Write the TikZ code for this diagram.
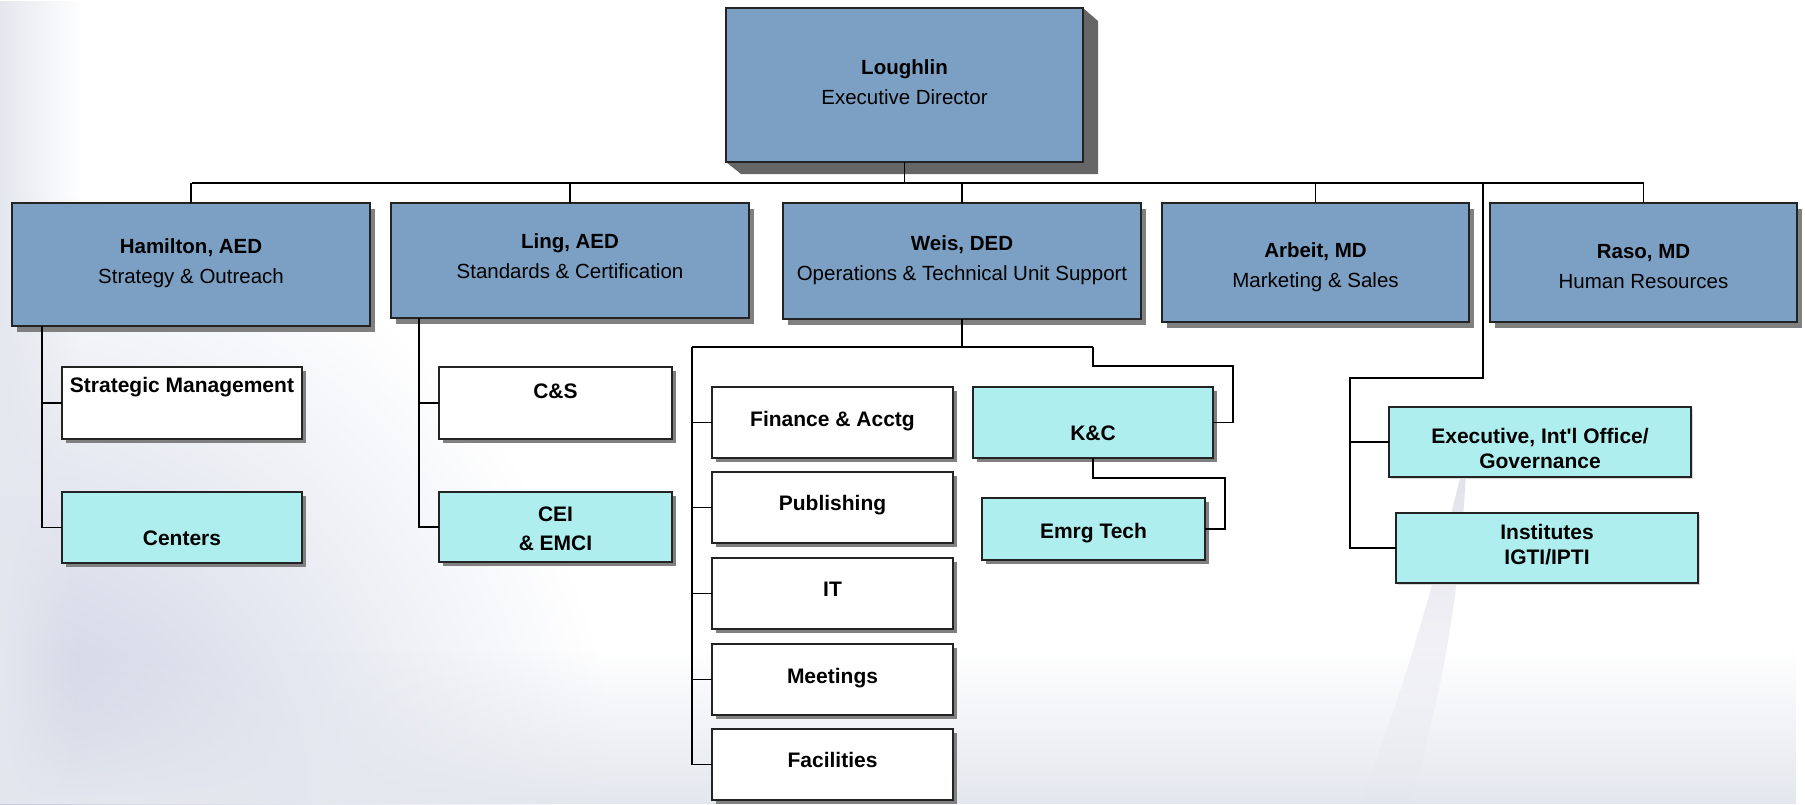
\documentclass[tikz,border=0pt]{standalone}
\usepackage{fontspec}
\setmainfont{Liberation Sans}
\usetikzlibrary{shadows,fadings}
\definecolor{hdr}{RGB}{123,160,196}
\definecolor{cybx}{RGB}{175,238,238}
\definecolor{edgec}{RGB}{35,35,35}
\definecolor{shd}{RGB}{128,128,128}
\definecolor{bgc}{RGB}{200,206,224}
\definecolor{bgb}{RGB}{228,231,238}
\newcommand\orgbox[6]{\node[#1, minimum width={#4-#2}, minimum height={#5-#3}] (#6) at ({(#2+#4)/2},{(#3+#5)/2}) {};}
\begin{document}
\begin{tikzpicture}[x=1pt,y=-1pt,
  bx/.style={draw=edgec, line width=1.3pt, inner sep=0pt, outer sep=0pt},
  hbox/.style={bx, fill=hdr, general shadow={fill=shd, shadow xshift=5pt, shadow yshift=-6pt}},
  wbox/.style={bx, fill=white, general shadow={fill=shd, shadow xshift=4pt, shadow yshift=-4pt}},
  cbox/.style={bx, fill=cybx, general shadow={fill=shd, shadow xshift=4pt, shadow yshift=-4pt}},
  pbox/.style={bx, fill=cybx, general shadow={fill={rgb,255:red,215;green,215;blue,215}, shadow xshift=2pt, shadow yshift=-2pt}},
  conn/.style={line width=1.3pt, draw=black},
  hdtxt/.style={font=\fontsize{20.5}{30}\selectfont, align=center, inner sep=0pt},
  chtxt/.style={font=\fontsize{21}{26}\bfseries\selectfont, align=center, inner sep=0pt, text height=15pt, text depth=0pt},
  chtxtm/.style={font=\fontsize{21}{25}\bfseries\selectfont, align=center, inner sep=0pt}
]
\useasboundingbox (0,0) rectangle (1805,804);
% background
\fill[white] (0,0) rectangle (1805,804);
\begin{scope}
  \clip (0,0) rectangle (1805,804);
  \shade[inner color=bgc, outer color=white] (0,804) circle (620);
  \fill[bgb, path fading=north] (0,650) rectangle (1805,804);
  \fill[bgb, path fading=east] (0,0) rectangle (80,804);
  \fill[color={rgb,255:red,226;green,226;blue,236}, path fading=south] (1462,470) .. controls (1430,600) and (1400,700) .. (1360,804) -- (1410,804) .. controls (1440,700) and (1460,600) .. (1466,470) -- cycle;
\end{scope}

% top box with 3D shadow
\fill[color={rgb,255:red,102;green,102;blue,102}] (1083,8) -- (1098,21) -- (1098,174) -- (741,174) -- (726,162) -- (1083,162) -- cycle;
\orgbox{bx, fill=hdr}{726}{8}{1083}{162}{L}

% level 1
\orgbox{hbox}{12}{203}{370}{326}{H}
\orgbox{hbox}{391}{203}{749}{318}{Li}
\orgbox{hbox}{783}{203}{1141}{319}{W}
\orgbox{hbox}{1162}{203}{1469}{322}{A}
\orgbox{hbox}{1490}{203}{1797}{322}{R}

% children
\orgbox{wbox}{62}{367}{302}{439}{SM}
\orgbox{cbox}{62}{492}{302}{563}{Ce}
\orgbox{wbox}{439}{367}{672}{439}{CS}
\orgbox{cbox}{439}{492}{672}{562}{CEI}
\orgbox{wbox}{712}{387}{953}{458}{Fin}
\orgbox{wbox}{712}{472}{953}{543}{Pub}
\orgbox{wbox}{712}{558}{953}{629}{IT}
\orgbox{wbox}{712}{644}{953}{715}{Mtg}
\orgbox{wbox}{712}{729}{953}{800}{Fac}
\orgbox{cbox}{973}{387}{1213}{458}{KC}
\orgbox{cbox}{982}{498}{1205}{560}{ET}
\orgbox{pbox}{1389}{407}{1691}{477}{Ex}
\orgbox{pbox}{1396}{513}{1698}{583}{In}

% texts
\node[hdtxt] (Lt) at (904.5,82) {{\bfseries Loughlin}\\Executive Director};
\node[hdtxt] (Ht) at (191,263) {{\bfseries Hamilton, AED}\\Strategy \& Outreach};
\node[hdtxt] (Lit) at (570,256) {{\bfseries Ling, AED}\\Standards \& Certification};
\node[hdtxt] (Wt) at (962,260) {{\bfseries Weis, DED}\\Operations \& Technical Unit Support};
\node[hdtxt] (At) at (1315.5,267) {{\bfseries Arbeit, MD}\\Marketing \& Sales};
\node[hdtxt] (Rt) at (1643.5,267) {{\bfseries Raso, MD}\\Human Resources};

\node[chtxt] (SMt) at (182,385) {Strategic Management};
\node[chtxt] (Cet) at (182,538) {Centers};
\node[chtxt] (CSt) at (555.5,391) {C\&S};
\node[chtxtm] (CEIt) at (555.5,529) {CEI\\[4pt]\& EMCI};
\node[chtxt] (Fint) at (832.5,419) {Finance \& Acctg};
\node[chtxt] (Pubt) at (832.5,503) {Publishing};
\node[chtxt] (ITt) at (832.5,589) {IT};
\node[chtxt] (Mtgt) at (832.5,676) {Meetings};
\node[chtxt] (Fact) at (832.5,760) {Facilities};
\node[chtxt] (KCt) at (1093,433) {K\&C};
\node[chtxt] (ETt) at (1093.5,531) {Emrg Tech};
\node[chtxtm] (Ext) at (1540,448) {Executive, Int\textquotesingle l Office/\\Governance};
\node[chtxtm] (Int) at (1547,545) {Institutes\\IGTI/IPTI};

% connectors: top bus
\coordinate (busL) at (192,183);
\coordinate (busR) at (1643.5,183);
\draw[conn] (L.south) -- (L.south |- busL);
\draw[conn] (busL) -- (busR);
\foreach \n in {H,Li,W,A,R} \draw[conn] (\n.north) -- (\n.north |- busL);

% Exec / Institutes branch
\coordinate (gA) at (1483,183);
\coordinate (gB) at (1483,378);
\coordinate (gC) at (1350,378);
\draw[conn] (gA) -- (gB) -- (gC) -- (gC |- In.west) -- (In.west);
\draw[conn] (gC |- Ex.west) -- (Ex.west);

% Hamilton
\coordinate (hx) at (42,0);
\draw[conn] (H.south -| hx) -- (hx |- Ce.west) -- (Ce.west);
\draw[conn] (hx |- SM.west) -- (SM.west);

% Ling
\coordinate (lx) at (419,0);
\draw[conn] (Li.south -| lx) -- (lx |- CEI.west) -- (CEI.west);
\draw[conn] (lx |- CS.west) -- (CS.west);

% Weis
\coordinate (wb) at (692,347);
\coordinate (wk) at (1093,347);
\draw[conn] (W.south) -- (W.south |- wb);
\draw[conn] (wb) -- (wk);
\draw[conn] (wb) -- (wb |- Fac.west) -- (Fac.west);
\foreach \n in {Fin,Pub,IT,Mtg} \draw[conn] (wb |- \n.west) -- (\n.west);
\coordinate (k1) at (1233,366);
\draw[conn] (wk) -- (wk |- k1) -- (k1) -- (k1 |- KC.east) -- (KC.east);
\coordinate (e1) at (1225,478);
\draw[conn] (KC.south) -- (KC.south |- e1) -- (e1) -- (e1 |- ET.east) -- (ET.east);
\end{tikzpicture}
\end{document}
